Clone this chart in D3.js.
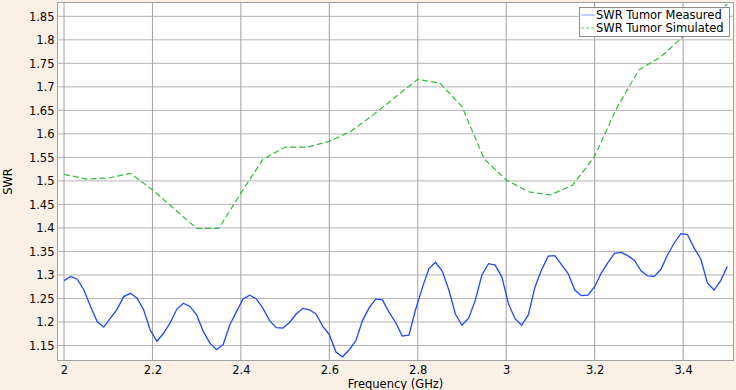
<!DOCTYPE html>
<html><head><meta charset="utf-8">
<script src="https://cdn.jsdelivr.net/npm/d3@7"></script>
<style>
html,body{margin:0;padding:0;background:#faf0e6;}
svg{display:block;font-family:"DejaVu Sans",sans-serif;}
</style></head>
<body><svg id="c" width="736" height="390"></svg>
<script>
const measuredFreq = [2.000,2.015,2.030,2.045,2.060,2.075,2.090,2.105,2.120,2.135,2.150,2.165,2.180,2.195,2.210,2.225,2.240,2.255,2.270,2.285,2.300,2.315,2.330,2.345,2.360,2.375,2.390,2.405,2.420,2.435,2.450,2.465,2.480,2.495,2.510,2.525,2.540,2.555,2.570,2.585,2.600,2.615,2.630,2.645,2.660,2.675,2.690,2.705,2.720,2.735,2.750,2.765,2.780,2.795,2.810,2.825,2.840,2.855,2.870,2.885,2.900,2.915,2.930,2.945,2.960,2.975,2.990,3.005,3.020,3.035,3.050,3.065,3.080,3.095,3.110,3.125,3.140,3.155,3.170,3.185,3.200,3.215,3.230,3.245,3.260,3.275,3.290,3.305,3.320,3.335,3.350,3.365,3.380,3.395,3.410,3.425,3.440,3.455,3.470,3.485,3.500];
const measuredSWR = [1.288,1.297,1.291,1.268,1.233,1.201,1.189,1.208,1.227,1.254,1.261,1.251,1.226,1.183,1.159,1.176,1.198,1.227,1.240,1.233,1.215,1.180,1.155,1.141,1.152,1.194,1.222,1.249,1.257,1.249,1.229,1.203,1.188,1.187,1.199,1.217,1.229,1.226,1.217,1.191,1.173,1.136,1.126,1.141,1.160,1.203,1.230,1.249,1.247,1.221,1.199,1.170,1.172,1.226,1.272,1.313,1.327,1.309,1.269,1.217,1.193,1.208,1.246,1.300,1.324,1.321,1.296,1.239,1.207,1.193,1.215,1.274,1.311,1.340,1.341,1.322,1.303,1.268,1.256,1.257,1.275,1.304,1.326,1.346,1.348,1.341,1.331,1.309,1.298,1.297,1.312,1.343,1.368,1.388,1.386,1.357,1.334,1.283,1.268,1.288,1.318];
const simulatedFreq = [2.00,2.05,2.10,2.15,2.20,2.25,2.30,2.35,2.40,2.45,2.50,2.55,2.60,2.65,2.70,2.75,2.80,2.85,2.90,2.95,3.00,3.05,3.10,3.15,3.20,3.25,3.30,3.35,3.40,3.45,3.50];
const simulatedSWR = [1.514,1.504,1.506,1.516,1.481,1.440,1.399,1.399,1.474,1.546,1.572,1.572,1.584,1.606,1.641,1.679,1.716,1.708,1.658,1.547,1.502,1.477,1.470,1.491,1.552,1.655,1.736,1.764,1.807,1.842,1.876];
const xTicks = [2,2.2,2.4,2.6,2.8,3,3.2,3.4];
const yTicks = [1.15,1.2,1.25,1.3,1.35,1.4,1.45,1.5,1.55,1.6,1.65,1.7,1.75,1.8,1.85];
const seriesNames = ["SWR Tumor Measured","SWR Tumor Simulated"];
const xTitle = "Frequency (GHz)";
const yTitle = "SWR";

const svg = d3.select("#c");
const L = 57.5, R = 733.5, T = 2.5, B = 360.5;
const x = d3.scaleLinear().domain([1.9853, 3.5140]).range([L, R]);
const y = d3.scaleLinear().domain([1.1181, 1.8794]).range([B, T]);

svg.append("rect").attr("x",L).attr("y",T).attr("width",R-L).attr("height",B-T).attr("fill","#fff");

// grid
svg.append("g").selectAll("line").data(yTicks).join("line")
  .attr("x1",L).attr("x2",R).attr("y1",d=>y(d)).attr("y2",d=>y(d))
  .attr("stroke","#b4b4b4").attr("stroke-width",1);
svg.append("g").selectAll("line").data(xTicks).join("line")
  .attr("y1",T).attr("y2",B).attr("x1",d=>x(d)).attr("x2",d=>x(d))
  .attr("stroke","#a0a0a0").attr("stroke-width",1);

// axes (labels only)
const xa = svg.append("g").attr("transform",`translate(0,${B})`)
  .call(d3.axisBottom(x).tickValues(xTicks).tickSize(0).tickPadding(5).tickFormat(d3.format("")));
const ya = svg.append("g").attr("transform",`translate(${L},0)`)
  .call(d3.axisLeft(y).tickValues(yTicks).tickSize(0).tickPadding(3).tickFormat(d3.format("")));
[xa,ya].forEach(a=>{a.select(".domain").remove();a.selectAll("text").attr("font-size","11.5px").attr("fill","#000").attr("font-family","DejaVu Sans");});

svg.append("rect").attr("x",L).attr("y",T).attr("width",R-L).attr("height",B-T)
  .attr("fill","none").attr("stroke","#a0a0a0").attr("stroke-width",1);

svg.append("text").attr("x",(L+R)/2).attr("y",387.5).attr("text-anchor","middle")
  .attr("font-size","11.5px").text(xTitle);
svg.append("text").attr("transform",`translate(12,${(T+B)/2}) rotate(-90)`).attr("text-anchor","middle")
  .attr("font-size","11.5px").text(yTitle);

svg.append("clipPath").attr("id","clip").append("rect").attr("x",L).attr("y",T).attr("width",R-L).attr("height",B-T);
const line = d3.line().x(d=>x(d[0])).y(d=>y(d[1]));
const g = svg.append("g").attr("clip-path","url(#clip)");
g.append("path").datum(simulatedFreq.map((f,i)=>[f,simulatedSWR[i]]))
  .attr("d",line).attr("fill","none").attr("stroke","#33bb3c").attr("stroke-width",1.2).attr("stroke-dasharray","6,3");
g.append("path").datum(measuredFreq.map((f,i)=>[f,measuredSWR[i]]))
  .attr("d",line).attr("fill","none").attr("stroke","#2146ff").attr("stroke-width",1.3);

// legend
const lg = svg.append("g");
lg.append("rect").attr("x",579.5).attr("y",7.5).attr("width",150).attr("height",29)
  .attr("fill","#fff").attr("stroke","#8c8c8c").attr("stroke-width",1);
const colors = ["#8899ff","#66cc6a"];
seriesNames.forEach((n,i)=>{
  const yy = 15 + i*13;
  lg.append("line").attr("x1",581).attr("x2",595).attr("y1",yy).attr("y2",yy)
    .attr("stroke",colors[i]).attr("stroke-width",1).attr("stroke-dasharray", i? "3,2":null);
  lg.append("text").attr("x",596).attr("y",yy+4.2).attr("font-size","11.5px").text(n);
});
</script></body></html>
